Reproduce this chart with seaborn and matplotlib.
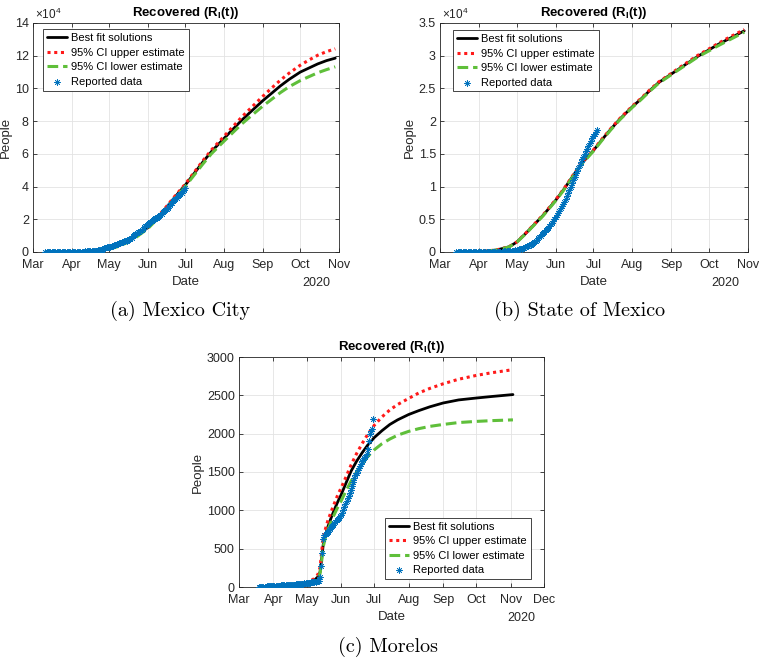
import numpy as np
import pandas as pd
import matplotlib
matplotlib.use("Agg")
import matplotlib.pyplot as plt
import matplotlib.dates as mdates
from matplotlib.ticker import FixedLocator, FuncFormatter
import seaborn as sns

sns.set_theme(style="ticks")
plt.rcParams["font.family"] = ["Liberation Sans", "DejaVu Sans"]
plt.rcParams["mathtext.fontset"] = "custom"
plt.rcParams["mathtext.rm"] = "Liberation Sans"
plt.rcParams["mathtext.it"] = "Liberation Sans:italic"
plt.rcParams["mathtext.bf"] = "Liberation Sans:bold"
plt.rcParams["mathtext.default"] = "regular"

# ---------------- data ----------------
legend_labels = ["Best fit solutions", "95% CI upper estimate",
                 "95% CI lower estimate", "Reported data"]
captions = ["(a) Mexico City", "(b) State of Mexico", "(c) Morelos"]
title_text = r"Recovered (R$_\mathbf{I}$(t))"

# Panel (a) Mexico City (values in thousands of people)
a_curve_dates = ["2020-03-11", "2020-04-01", "2020-04-15", "2020-04-25", "2020-05-01", "2020-05-08",
                 "2020-05-15", "2020-05-22", "2020-06-01", "2020-06-08", "2020-06-15", "2020-06-22",
                 "2020-07-01", "2020-07-08", "2020-07-15", "2020-07-22", "2020-08-01", "2020-08-08",
                 "2020-08-15", "2020-08-22", "2020-09-01", "2020-09-08", "2020-09-15", "2020-09-22",
                 "2020-10-01", "2020-10-08", "2020-10-15", "2020-10-22", "2020-10-29"]
a_best = [0, 0.1, 0.4, 1.0, 2.0, 3.6, 6.0, 9.2, 15.0, 20.5, 26.5, 33.0, 41.0, 48.0, 55.0, 61.5, 69.5,
          75.0, 80.5, 85.5, 92.5, 97.0, 101.5, 105.5, 110.0, 112.5, 115.0, 117.0, 118.5]
a_upper = [0, 0.1, 0.4, 1.0, 2.1, 3.8, 6.3, 9.6, 15.5, 21.0, 27.0, 33.6, 41.6, 48.7, 55.8, 62.5, 70.8,
           76.6, 82.4, 87.7, 95.2, 100.2, 105.0, 109.3, 114.2, 117.4, 120.3, 122.5, 124.2]
a_lower = [0, 0.1, 0.35, 0.9, 1.8, 3.3, 5.6, 8.7, 14.3, 19.8, 25.8, 32.2, 40.2, 47.0, 53.8, 60.2, 67.8,
           73.0, 78.2, 82.8, 89.2, 93.3, 97.4, 101.0, 104.8, 107.2, 109.6, 111.5, 113.2]
a_data_start = "2020-03-11"
a_reported = [0, 0, 0, 0, 0, 0, 0.01, 0.01, 0.01, 0.02, 0.02, 0.03, 0.03, 0.04, 0.05, 0.05, 0.06, 0.07,
              0.08, 0.09, 0.1,
              0.11, 0.12, 0.14, 0.15, 0.17, 0.19, 0.2, 0.22, 0.25, 0.27, 0.3, 0.33, 0.36, 0.4, 0.45, 0.5,
              0.55, 0.6, 0.7, 0.8, 0.9, 1.0, 1.1, 1.3, 1.5, 1.7, 2.2, 2.6, 2.9, 3.0,
              3.1, 3.3, 3.5, 3.7, 4.0, 4.3, 4.6, 5.0, 5.4, 5.8, 6.1, 6.4, 6.6, 6.8, 7.0, 7.3, 7.7, 8.2,
              8.8, 9.5, 10.2, 10.8, 11.4, 12.0, 12.5, 13.0, 13.6, 14.3, 15.0, 15.7, 16.4,
              17.1, 17.6, 18.2, 18.8, 19.4, 20.0, 20.5, 21.0, 21.6, 22.3, 22.9, 23.5, 24.2, 24.9, 25.6,
              26.3, 27.1, 28.0, 29.0, 30.0, 30.9, 31.7, 32.5, 33.3, 34.1, 34.8, 35.5, 36.3, 37.1, 38.0,
              38.9]

# Panel (b) State of Mexico (values in thousands of people)
b_curve_dates = ["2020-03-14", "2020-04-01", "2020-04-15", "2020-04-25", "2020-05-01", "2020-05-08",
                 "2020-05-15", "2020-05-22", "2020-06-01", "2020-06-08", "2020-06-15", "2020-06-22",
                 "2020-07-01", "2020-07-08", "2020-07-15", "2020-07-22", "2020-08-01", "2020-08-08",
                 "2020-08-15", "2020-08-22", "2020-09-01", "2020-09-08", "2020-09-15", "2020-09-22",
                 "2020-10-01", "2020-10-08", "2020-10-15", "2020-10-22", "2020-10-29"]
b_best = [0, 0.05, 0.3, 0.8, 1.5, 2.8, 4.2, 5.6, 7.9, 9.7, 11.7, 13.6, 15.5, 17.2, 18.8, 20.3, 22.2,
          23.4, 24.7, 25.9, 27.2, 28.1, 29.0, 29.9, 30.9, 31.7, 32.4, 33.1, 33.8]
b_upper = [0, 0.05, 0.31, 0.82, 1.53, 2.85, 4.26, 5.67, 7.98, 9.79, 11.8, 13.7, 15.6, 17.3, 18.9, 20.4,
           22.3, 23.5, 24.8, 26.0, 27.3, 28.25, 29.15, 30.05, 31.05, 31.85, 32.6, 33.3, 34.0]
b_lower = [0, 0.05, 0.29, 0.78, 1.47, 2.75, 4.14, 5.53, 7.82, 9.61, 11.6, 13.5, 15.4, 17.1, 18.7, 20.2,
           22.1, 23.3, 24.6, 25.8, 27.1, 28.0, 28.9, 29.8, 30.75, 31.5, 32.2, 32.9, 33.6]
b_data_start = "2020-03-14"
b_reported = [0, 0, 0, 0, 0.001, 0.001, 0.002, 0.002, 0.003, 0.003, 0.004, 0.005, 0.006, 0.007, 0.008,
              0.009, 0.01, 0.012,
              0.014, 0.016, 0.018, 0.02, 0.022, 0.024, 0.026, 0.028, 0.03, 0.032, 0.035, 0.038, 0.041,
              0.044, 0.048, 0.052, 0.056, 0.06, 0.065, 0.07, 0.08, 0.09, 0.1, 0.11, 0.12, 0.135, 0.15,
              0.17, 0.2, 0.24,
              0.29, 0.34, 0.4, 0.46, 0.53, 0.6, 0.68, 0.76, 0.85, 0.94, 1.04, 1.14, 1.25, 1.37, 1.5,
              1.69, 1.88, 2.08, 2.29, 2.5, 2.7, 2.9, 3.1, 3.3, 3.5, 3.74, 3.98, 4.22, 4.47, 4.73, 5.0,
              5.3, 5.63, 5.97, 6.3, 6.65, 7.0, 7.35, 7.7, 8.15, 8.6, 9.05, 9.5, 9.95, 10.5, 11.0, 11.5,
              12.0, 12.45, 12.9, 13.35, 13.75, 14.15, 14.55, 15.0, 15.4, 15.8, 16.2, 16.6, 17.0, 17.4,
              17.8, 18.1, 18.4, 18.7]

# Panel (c) Morelos (values in people)
c_curve_dates = ["2020-03-19", "2020-04-01", "2020-04-15", "2020-05-01", "2020-05-08", "2020-05-11",
                 "2020-05-13", "2020-05-14", "2020-05-15", "2020-05-16", "2020-05-18", "2020-05-20",
                 "2020-05-23", "2020-05-26", "2020-05-29", "2020-06-01", "2020-06-05", "2020-06-10",
                 "2020-06-15", "2020-06-20", "2020-06-25", "2020-07-01", "2020-07-08", "2020-07-15",
                 "2020-07-22", "2020-08-01", "2020-08-10", "2020-08-20", "2020-09-01", "2020-09-15",
                 "2020-10-01", "2020-10-15", "2020-11-03"]
c_best = [2, 6, 15, 45, 90, 130, 190, 300, 430, 560, 680, 780, 900, 1010, 1110, 1200, 1340, 1510,
          1640, 1750, 1850, 1950, 2040, 2120, 2180, 2250, 2300, 2350, 2400, 2440, 2465, 2485, 2510]
c_upper = [2, 7, 18, 55, 110, 160, 250, 380, 520, 640, 760, 860, 980, 1090, 1200, 1290, 1420, 1590,
           1740, 1870, 1990, 2110, 2220, 2310, 2380, 2460, 2530, 2590, 2650, 2710, 2760, 2795, 2835]
c_lower = [2, 5, 13, 40, 80, 115, 170, 270, 400, 530, 650, 740, 850, 950, 1040, 1120, 1240, 1380,
           1500, 1600, 1700, 1790, 1870, 1930, 1980, 2030, 2065, 2095, 2120, 2145, 2160, 2170, 2180]
c_data_start = "2020-03-19"
c_reported = [2, 3, 3, 4, 5, 5, 6, 7, 8, 9, 10, 11, 12,
              13, 14, 15, 16, 17, 18, 19, 20, 21, 22, 23, 24, 25, 26, 27, 28, 29, 30, 31, 32, 33, 34,
              35, 37, 39, 41, 43, 45, 47, 49,
              51, 53, 55, 57, 59, 61, 63, 66, 69, 72, 75, 80, 130, 280, 450, 620, 680, 690, 700, 720,
              740, 760, 780, 800, 810, 830, 850, 870, 890, 900, 920,
              940, 970, 1000, 1040, 1080, 1120, 1160, 1190, 1230, 1270, 1320, 1370, 1420, 1460, 1490,
              1520, 1550, 1580, 1610, 1640, 1660, 1680, 1700, 1730, 1800, 1900, 1990, 2030, 2060, 2190]

a_yticks = [0, 20000, 40000, 60000, 80000, 100000, 120000, 140000]
b_yticks = [0, 5000, 10000, 15000, 20000, 25000, 30000, 35000]
c_yticks = [0, 500, 1000, 1500, 2000, 2500, 3000]

# ---------------- styling ----------------
C_BEST = "black"
C_UP = "#ff1a1a"
C_LOW = "#5fbf3a"
C_DATA = "#0072BD"
TXT = "#262626"
FS = 9

fig = plt.figure(figsize=(7.6, 6.61), dpi=100)
W, H = 760.0, 661.0


def add_axes(left, right, top, bottom):
    return fig.add_axes([left / W, 1 - bottom / H, (right - left) / W, (bottom - top) / H])


def panel(ax, cdates, best, upper, lower, dstart, reported, scale, yticks, ylabels_sci, xend,
          legend_anchor, legend_loc, caption, cap_xy):
    cd = pd.to_datetime(cdates)
    dd = pd.date_range(dstart, periods=len(reported), freq="D")
    sns.lineplot(x=cd, y=np.array(best) * scale, ax=ax, color=C_BEST, lw=2.0, label=legend_labels[0],
                 estimator=None, sort=False, zorder=3)
    sns.lineplot(x=cd, y=np.array(upper) * scale, ax=ax, color=C_UP, lw=2.2, linestyle=(0, (1, 1.2)),
                 label=legend_labels[1], estimator=None, sort=False, zorder=4)
    sns.lineplot(x=cd, y=np.array(lower) * scale, ax=ax, color=C_LOW, lw=2.2, linestyle=(0, (3.5, 1.6)),
                 label=legend_labels[2], estimator=None, sort=False, zorder=5)
    sns.scatterplot(x=dd, y=np.array(reported) * scale, ax=ax, marker=(8, 2, 0), s=18, color=C_DATA,
                    linewidth=0.5, label=legend_labels[3], zorder=6)

    ax.set_xlim(pd.Timestamp("2020-03-01"), pd.Timestamp(xend))
    ax.set_ylim(yticks[0], yticks[-1])
    ax.xaxis.set_major_locator(mdates.MonthLocator())
    ax.xaxis.set_major_formatter(mdates.DateFormatter("%b"))
    ax.yaxis.set_major_locator(FixedLocator(yticks))
    if ylabels_sci:
        ax.yaxis.set_major_formatter(FuncFormatter(lambda v, p: "%g" % (v / 1e4)))
        ax.text(0.005, 1.004, r"$\times$10$^4$", transform=ax.transAxes, ha="left", va="bottom",
                fontsize=FS - 0.5, color=TXT)
    else:
        ax.yaxis.set_major_formatter(FuncFormatter(lambda v, p: "%d" % v))

    ax.grid(True, color="#e3e3e3", lw=0.6)
    ax.set_axisbelow(True)
    for s in ax.spines.values():
        s.set_color("#262626")
        s.set_linewidth(0.6)
    ax.tick_params(direction="in", length=3, width=0.6, colors=TXT, labelsize=FS,
                   top=True, right=True, labelcolor=TXT)
    ax.tick_params(axis="x", pad=5)
    ax.tick_params(axis="y", pad=3)
    ax.set_xlabel("Date", fontsize=FS + 0.5, color=TXT, labelpad=4)
    ax.set_ylabel("People", fontsize=FS + 0.5, color=TXT, labelpad=2)
    ax.set_title(title_text, fontsize=FS + 0.5, fontweight="bold", color="black", pad=5)
    ax.text(0.972, -0.135, "2020", transform=ax.transAxes, ha="right", va="center", fontsize=FS,
            color=TXT)

    h, l = ax.get_legend_handles_labels()
    leg = ax.legend(h, l, loc=legend_loc, bbox_to_anchor=legend_anchor, borderaxespad=0,
                    fontsize=8, frameon=True, fancybox=False, framealpha=1, edgecolor="#262626",
                    handlelength=1.8, handletextpad=0.4, labelspacing=0.4, borderpad=0.35,
                    scatterpoints=1, markerscale=1.0)
    leg.get_frame().set_linewidth(0.6)
    for t in leg.get_texts():
        t.set_color("black")

    fig.text(cap_xy[0] / W, 1 - cap_xy[1] / H, caption, ha="center", va="center",
             fontsize=14.5, family="cmr10", color="black")


ax_a = add_axes(33, 339, 23, 252)
panel(ax_a, a_curve_dates, a_best, a_upper, a_lower, a_data_start, a_reported, 1000, a_yticks, True,
      "2020-11-01", (0.033, 0.972), "upper left", captions[0], (180, 311))

ax_b = add_axes(440, 748, 23, 252)
panel(ax_b, b_curve_dates, b_best, b_upper, b_lower, b_data_start, b_reported, 1000, b_yticks, True,
      "2020-11-01", (0.042, 0.968), "upper left", captions[1], (580, 311))

ax_c = add_axes(239, 544, 357, 587)
panel(ax_c, c_curve_dates, c_best, c_upper, c_lower, c_data_start, c_reported, 1, c_yticks, False,
      "2020-12-01", (0.957, 0.035), "lower right", captions[2], (388, 647))

fig.savefig("out.png", dpi=100)
